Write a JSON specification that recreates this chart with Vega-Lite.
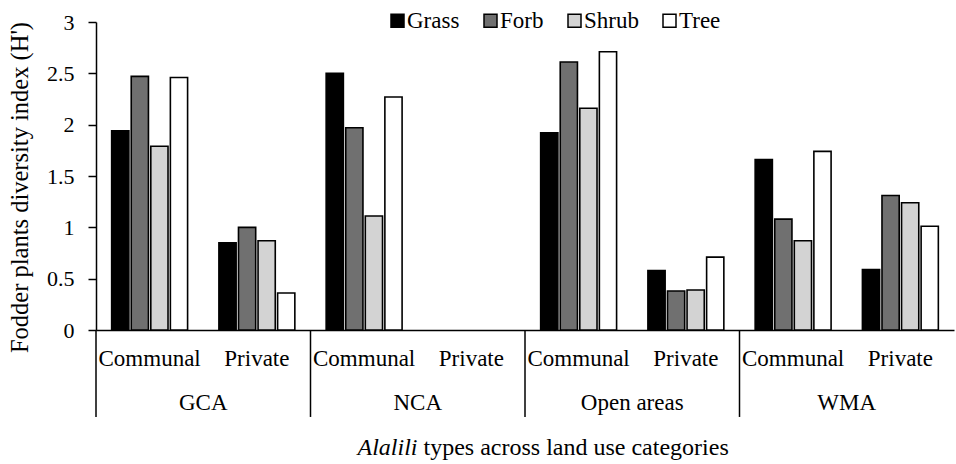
{
  "$schema": "https://vega.github.io/schema/vega-lite/v6.json",
  "autosize": "none",
  "width": 858,
  "height": 308,
  "padding": {"left": 96, "top": 22, "right": 2, "bottom": 134},
  "background": "white",
  "config": {
    "view": {"stroke": null},
    "font": "Liberation Serif"
  },
  "datasets": {
    "bars": [
      {"key": "GCA|Communal", "species": "Grass", "value": 1.94},
      {"key": "GCA|Communal", "species": "Forb", "value": 2.47},
      {"key": "GCA|Communal", "species": "Shrub", "value": 1.79},
      {"key": "GCA|Communal", "species": "Tree", "value": 2.46},
      {"key": "GCA|Private", "species": "Grass", "value": 0.85},
      {"key": "GCA|Private", "species": "Forb", "value": 1.0},
      {"key": "GCA|Private", "species": "Shrub", "value": 0.87},
      {"key": "GCA|Private", "species": "Tree", "value": 0.36},
      {"key": "NCA|Communal", "species": "Grass", "value": 2.5},
      {"key": "NCA|Communal", "species": "Forb", "value": 1.97},
      {"key": "NCA|Communal", "species": "Shrub", "value": 1.11},
      {"key": "NCA|Communal", "species": "Tree", "value": 2.27},
      {"key": "Open areas|Communal", "species": "Grass", "value": 1.92},
      {"key": "Open areas|Communal", "species": "Forb", "value": 2.61},
      {"key": "Open areas|Communal", "species": "Shrub", "value": 2.16},
      {"key": "Open areas|Communal", "species": "Tree", "value": 2.71},
      {"key": "Open areas|Private", "species": "Grass", "value": 0.58},
      {"key": "Open areas|Private", "species": "Forb", "value": 0.38},
      {"key": "Open areas|Private", "species": "Shrub", "value": 0.39},
      {"key": "Open areas|Private", "species": "Tree", "value": 0.71},
      {"key": "WMA|Communal", "species": "Grass", "value": 1.66},
      {"key": "WMA|Communal", "species": "Forb", "value": 1.08},
      {"key": "WMA|Communal", "species": "Shrub", "value": 0.87},
      {"key": "WMA|Communal", "species": "Tree", "value": 1.74},
      {"key": "WMA|Private", "species": "Grass", "value": 0.59},
      {"key": "WMA|Private", "species": "Forb", "value": 1.31},
      {"key": "WMA|Private", "species": "Shrub", "value": 1.24},
      {"key": "WMA|Private", "species": "Tree", "value": 1.01}
    ],
    "groups": [
      {"key": "GCA|Communal", "label": "GCA"},
      {"key": "NCA|Communal", "label": "NCA"},
      {"key": "Open areas|Communal", "label": "Open areas"},
      {"key": "WMA|Communal", "label": "WMA"}
    ]
  },
  "layer": [
    {
      "data": {"name": "bars"},
      "mark": {"type": "bar", "stroke": "#000000", "strokeWidth": 1.6},
      "encoding": {
        "x": {
          "field": "key",
          "type": "nominal",
          "scale": {"domain": ["GCA|Communal", "GCA|Private", "NCA|Communal", "NCA|Private", "Open areas|Communal", "Open areas|Private", "WMA|Communal", "WMA|Private"], "paddingInner": 0, "paddingOuter": 0},
          "axis": {
            "title": null,
            "labelExpr": "indexof(datum.value, 'Communal') >= 0 ? 'Communal' : 'Private'",
            "labelAngle": 0,
            "labelFont": "Liberation Serif",
            "labelFontSize": 23,
            "labelColor": "#000000",
            "ticks": false,
            "labelPadding": 17,
            "domainColor": "#000000",
            "domainWidth": 1.5
          }
        },
        "xOffset": {
          "field": "species",
          "type": "nominal",
          "sort": ["Grass", "Forb", "Shrub", "Tree"],
          "scale": {"paddingInner": 0.12, "paddingOuter": 0.8}
        },
        "y": {
          "field": "value",
          "type": "quantitative",
          "scale": {"domain": [0, 3], "nice": false},
          "axis": {
            "title": "Fodder plants diversity index (H')",
            "titleFont": "Liberation Serif",
            "titleFontSize": 24.5,
            "titleFontWeight": "normal",
            "titleColor": "#000000",
            "titlePadding": 14,
            "titleY": 165,
            "values": [0, 0.5, 1, 1.5, 2, 2.5, 3],
            "format": "~g",
            "grid": false,
            "labelFont": "Liberation Serif",
            "labelFontSize": 22,
            "labelColor": "#000000",
            "labelPadding": 14,
            "tickSize": 8,
            "tickWidth": 1.5,
            "tickColor": "#000000",
            "domainColor": "#000000",
            "domainWidth": 1.5
          }
        },
        "color": {
          "field": "species",
          "type": "nominal",
          "scale": {"domain": ["Grass", "Forb", "Shrub", "Tree"], "range": ["#000000", "#707070", "#d3d3d3", "#ffffff"]},
          "legend": {
            "title": null,
            "orient": "none",
            "direction": "horizontal",
            "legendX": 290,
            "legendY": -13,
            "symbolType": "square",
            "symbolSize": 169,
            "symbolStrokeColor": "#000000",
            "symbolStrokeWidth": 1.5,
            "labelFont": "Liberation Serif",
            "labelFontSize": 23,
            "labelColor": "#000000",
            "labelOffset": -2,
            "columnPadding": 19
          }
        }
      }
    },
    {
      "data": {"name": "groups"},
      "mark": {"type": "rule", "stroke": "#000000", "strokeWidth": 1.5},
      "encoding": {
        "x": {"field": "key", "type": "nominal", "bandPosition": 0},
        "y": {"datum": 0, "type": "quantitative"},
        "y2": {"datum": -0.847}
      }
    },
    {
      "data": {"name": "groups"},
      "mark": {"type": "text", "font": "Liberation Serif", "fontSize": 23, "color": "#000000", "baseline": "alphabetic", "align": "center", "dy": 80},
      "encoding": {
        "x": {"field": "key", "type": "nominal", "bandPosition": 1},
        "y": {"datum": 0, "type": "quantitative"},
        "text": {"field": "label"}
      }
    },
    {
      "data": {"values": [{"key": "NCA|Communal", "label": "Alalili"}]},
      "mark": {"type": "text", "font": "Liberation Serif", "fontStyle": "italic", "fontSize": 24, "color": "#000000", "baseline": "alphabetic", "align": "left", "dx": 47, "dy": 125},
      "encoding": {
        "x": {"field": "key", "type": "nominal", "bandPosition": 0},
        "y": {"datum": 0, "type": "quantitative"},
        "text": {"field": "label"}
      }
    },
    {
      "data": {"values": [{"key": "NCA|Communal", "label": "types across land use categories"}]},
      "mark": {"type": "text", "font": "Liberation Serif", "fontSize": 24, "color": "#000000", "baseline": "alphabetic", "align": "left", "dx": 113, "dy": 125},
      "encoding": {
        "x": {"field": "key", "type": "nominal", "bandPosition": 0},
        "y": {"datum": 0, "type": "quantitative"},
        "text": {"field": "label"}
      }
    }
  ]
}
